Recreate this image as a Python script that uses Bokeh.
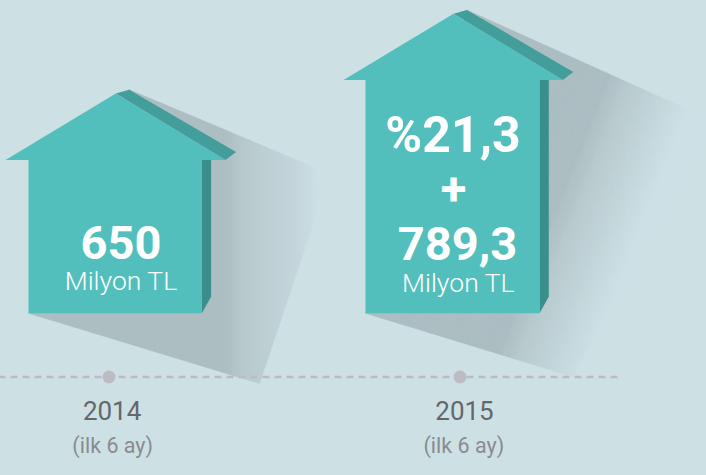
from bokeh.plotting import figure
from bokeh.models import Range1d
from bokeh.embed import file_html
from bokeh.resources import INLINE
from bokeh.core.properties import value

W, H = 706, 475
PAD = 2
BG = "#cde1e5"

categories = ["2014", "2015"]
periods = ["(ilk 6 ay)", "(ilk 6 ay)"]
unit = "Milyon TL"
amounts = ["650", "789,3"]
extra_share = "%21,3"
marker_x = [108.5, 459.5]
# house outlines (page pixels)
peak_x = [115.3, 453.0]
peak_y = [93.0, 13.3]
eave_y = [159.5, 79.5]
body_left = [28.0, 365.0]
body_right = [201.3, 539.0]
tip_left = [5.0, 343.0]
tip_right = [225.0, 562.3]
base_y = 312.7

FACE, ROOF, WALL = "#53bfbc", "#429d9b", "#3a8f8c"
DOT = "#bdbcc3"

p = figure(width=W + PAD, height=H + PAD, x_range=Range1d(-PAD, W), y_range=Range1d(H, -PAD),
           toolbar_location=None, output_backend="svg",
           min_border=0, min_border_left=0, min_border_right=0, min_border_top=0, min_border_bottom=0,
           background_fill_color=BG, border_fill_color=BG, outline_line_color=None,
           styles={"position": "absolute", "left": f"-{PAD}px", "top": f"-{PAD}px"})
p.axis.visible = False
p.grid.visible = False


def hex2rgb(c):
    return tuple(int(c[i:i + 2], 16) for i in (1, 3, 5))


def ramp(s, stops):
    if s <= stops[0][0]:
        return stops[0][1]
    for (a, ca), (b, cb) in zip(stops, stops[1:]):
        if s <= b:
            t = (s - a) / (b - a)
            x, y = hex2rgb(ca), hex2rgb(cb)
            return "#%02x%02x%02x" % tuple(round(x[i] + (y[i] - x[i]) * t) for i in range(3))
    return stops[-1][1]


def clip(poly, n, lim, keep_above):
    out = []
    sign = 1 if keep_above else -1
    for i, a in enumerate(poly):
        b = poly[(i + 1) % len(poly)]
        da = sign * (n[0] * a[0] + n[1] * a[1] - lim)
        db = sign * (n[0] * b[0] + n[1] * b[1] - lim)
        if da >= 0:
            out.append(a)
        if (da >= 0) != (db >= 0):
            t = da / (da - db)
            out.append((a[0] + (b[0] - a[0]) * t, a[1] + (b[1] - a[1]) * t))
    return out


def shadow(poly, n, stops, step=2.0):
    xs, ys, cs = [], [], []
    vals = [n[0] * x + n[1] * y for x, y in poly]
    s = min(vals)
    end = max(vals)
    while s < end:
        piece = clip(clip(poly, n, s, True), n, s + step, False)
        if len(piece) >= 3:
            xs.append([q[0] for q in piece])
            ys.append([q[1] for q in piece])
            cs.append(ramp(s + step / 2, stops))
        s += step
    p.patches(xs, ys, fill_color=cs, line_color=cs, line_width=0.6)


# shadows
shadow([(128.3, 89), (314, 167), (320.7, 179), (314, 219), (259, 383), (28, base_y)],
       (1.0, 0.0),
       [(224, "#abbdc1"), (244, "#b7c9cd"), (300, "#c5d7db"), (320, "#cde1e5")])
shadow([(466.7, 9.7), (705, 117), (705, 129), (572, 376), (365, base_y)],
       (0.93, 0.367),
       [(592, "#abbdc1"), (615, "#b8cacd"), (650, "#c3d6da"), (680, "#cde1e5")])

# dashed axis line and period markers
p.line([-PAD, 617], [376.5, 376.5], line_color=DOT, line_width=2.5, line_dash="7 5")
p.scatter(marker_x, [376.5, 376.5], size=13, fill_color=DOT, line_color=None)

# houses
for i in range(2):
    px, py, ey = peak_x[i], peak_y[i], eave_y[i]
    bl, br, tl, tr = body_left[i], body_right[i], tip_left[i], tip_right[i]
    p.patch([px, px + 13.4, tr + 10.5, tr], [py, py - 3.8, ey - 8, ey], fill_color=ROOF, line_color=None)
    p.patch([br, br + 9.3, br + 9.3, br], [ey, ey, base_y - 16.4, base_y], fill_color=WALL, line_color=None)
    p.patch([px, tr, br, br, bl, bl, tl], [py, ey, ey, base_y, base_y, ey, ey], fill_color=FACE, line_color=None)


def label(x, y, s, size, color, bold=False, font="Roboto"):
    p.text([x], [y - 0.385 * size], text=[s], text_font=value(font), text_font_size=f"{size}px",
           text_font_style="bold" if bold else "normal", text_color=color,
           text_align="center", text_baseline="alphabetic")


label(120.5, 260, amounts[0], 47, "#ffffff", True)
label(120.7, 290.7, unit, 26.5, "#ffffff", font="Roboto Light")
label(452.5, 154, extra_share, 50, "#ffffff", True)
label(453, 206, "+", 47, "#ffffff", True)
label(457, 260.7, amounts[1], 47, "#ffffff", True)
label(458, 292.3, unit, 26.5, "#ffffff", font="Roboto Light")
label(111.6, 420, categories[0], 26, "#65666a")
label(464, 420, categories[1], 26, "#65666a")
label(112.2, 453, periods[0], 21.5, "#8a8b90")
label(463.3, 453, periods[1], 21.5, "#8a8b90")

open("out.html", "w").write(file_html(p, INLINE))
